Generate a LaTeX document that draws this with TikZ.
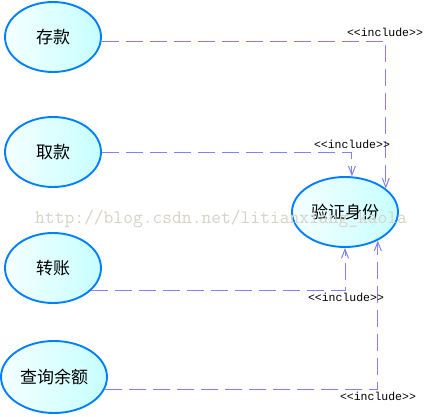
\documentclass[tikz,border=0pt]{standalone}
\usepackage{fontspec}
\newfontfamily\cjk{Noto Sans CJK SC}
\newfontfamily\monofont{Liberation Mono}
\usetikzlibrary{arrows.meta,shapes.geometric}
\definecolor{linkc}{RGB}{128,128,255}
\definecolor{ucborder}{RGB}{0,128,255}
\definecolor{wmc}{RGB}{214,210,200}
\begin{document}
\begin{tikzpicture}[x=1pt,y=-1pt,
 usecase/.style={ellipse, draw=ucborder, line width=1.9pt, left color=cyan!4, right color=cyan!22,
   minimum width=96pt, minimum height=70pt, font=\cjk\fontsize{17}{17}\selectfont, inner sep=0pt},
 incl/.style={draw=linkc, line width=1pt, dash pattern=on 17pt off 7pt,
   -{Straight Barb[length=9pt,width=7pt]}},
 lab/.style={font=\monofont\fontsize{11.5}{12}\selectfont, inner sep=0pt}]
\useasboundingbox (0,0) rectangle (429,416);
\node[usecase] (ck) at (53,37) {存款};
\node[usecase] (qk) at (53,152) {取款};
\node[usecase] (zz) at (53,268) {转账};
\node[usecase, minimum width=106pt, minimum height=72pt] (cx) at (54,377) {查询余额};
\node[usecase, minimum width=106pt] (yz) at (345,212) {验证身份};
\draw[incl] (ck.-5) -| (yz.30);
\draw[incl] (qk.east) -| (yz.79);
\draw[incl] (zz.-30) -| (yz.south);
\draw[incl] (cx.-14) -| (yz.-41);
\node[lab] (l1) at (385,32) {<<include>>};
\node[lab] (l2) at (352,144) {<<include>>};
\node[lab] (l3) at (346,297) {<<include>>};
\node[lab] (l4) at (378,396) {<<include>>};
\node[font=\ttfamily\fontsize{19}{19}\selectfont, text=wmc, anchor=west, inner sep=0pt] (wm) at (35,219) {http://blog.csdn.net/litianxiang\_kaola};
\end{tikzpicture}
\end{document}
